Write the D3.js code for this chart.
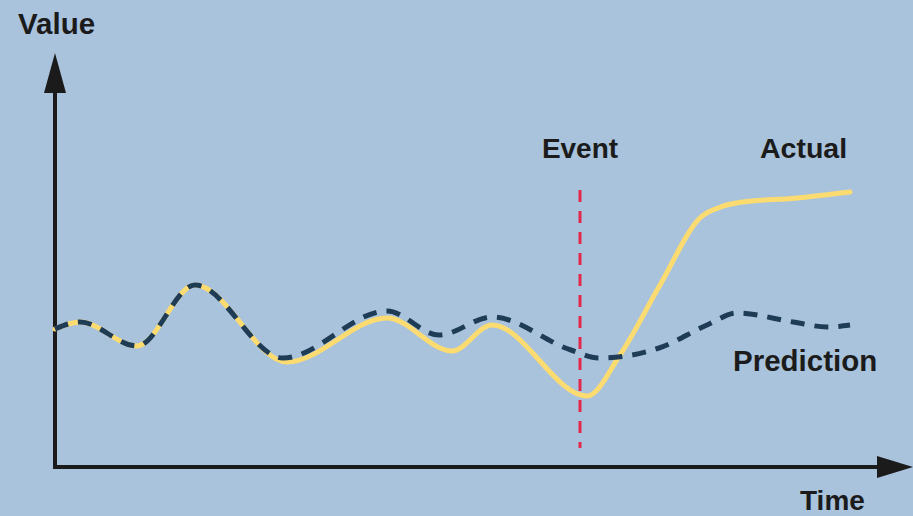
<!DOCTYPE html>
<html>
<head>
<meta charset="utf-8">
<script src="https://cdn.jsdelivr.net/npm/d3@7"></script>
<style>
  html, body { margin: 0; padding: 0; background: #a9c3dc; }
  svg { display: block; }
  text { font-family: "Liberation Sans", Arial, sans-serif; font-weight: bold; fill: #1b1b1b; }
</style>
</head>
<body>
<svg id="chart" width="913" height="516"></svg>
<script>
// Time (0-200) and value (0-100) units
const actualTime  = [0, 6.25, 20.5, 35, 58, 83, 99.25, 109.25, 133, 141.25, 151.25, 161.5, 167, 172, 185, 198.75];
const actualValue = [34.5, 36.25, 30.25, 45.5, 26.25, 37.25, 29, 35.5, 17.75, 28, 45.5, 62.5, 65.2, 66.25, 67.2, 68.75];

const predTime  = [0, 6.25, 20.5, 35, 57, 83, 96, 109.25, 129, 136, 151, 163, 170.5, 184.5, 193, 198.75];
const predValue = [34.5, 36.25, 30.25, 45.5, 27.25, 39, 33, 37.5, 29.25, 27.25, 29.75, 35.5, 38.5, 36.25, 35, 35.5];

const eventTime = 131.25;
const labels = { y: "Value", x: "Time", event: "Event", actual: "Actual", prediction: "Prediction" };

const svg = d3.select("#chart");
const x = d3.scaleLinear().domain([0, 200]).range([55, 855]);
const y = d3.scaleLinear().domain([0, 100]).range([467, 67]);

const axisColor = "#1b1b1b";
// Y axis
svg.append("line").attr("x1", x(0)).attr("x2", x(0)).attr("y1", y(0) + 2).attr("y2", 90)
  .attr("stroke", axisColor).attr("stroke-width", 4);
svg.append("path").attr("d", `M${x(0)},53 L${x(0) - 11},93 L${x(0) + 11},93 Z`).attr("fill", axisColor);
// X axis
svg.append("line").attr("x1", x(0) - 2).attr("x2", 880).attr("y1", y(0)).attr("y2", y(0))
  .attr("stroke", axisColor).attr("stroke-width", 4);
svg.append("path").attr("d", `M913,${y(0)} L877,${y(0) - 11} L877,${y(0) + 11} Z`).attr("fill", axisColor);

// Event line
svg.append("line").attr("x1", x(eventTime)).attr("x2", x(eventTime)).attr("y1", 190).attr("y2", 448)
  .attr("stroke", "#e3294a").attr("stroke-width", 3).attr("stroke-dasharray", "12,9");

const line = d3.line().curve(d3.curveMonotoneX).x(d => x(d[0])).y(d => y(d[1]));

svg.append("path").datum(d3.zip(actualTime, actualValue)).attr("d", line)
  .attr("fill", "none").attr("stroke", "#fcdb70").attr("stroke-width", 5).attr("stroke-linecap", "round");

svg.append("path").datum(d3.zip(predTime, predValue)).attr("d", line)
  .attr("fill", "none").attr("stroke", "#1f3c57").attr("stroke-width", 5).attr("stroke-dasharray", "14,10");

// Labels
svg.append("text").attr("x", 18).attr("y", 34).attr("font-size", 29.5).text(labels.y);
svg.append("text").attr("x", 800).attr("y", 510).attr("font-size", 28).text(labels.x);
svg.append("text").attr("x", x(eventTime)).attr("y", 158).attr("font-size", 28).attr("text-anchor", "middle").text(labels.event);
svg.append("text").attr("x", 760).attr("y", 158).attr("font-size", 28.5).text(labels.actual);
svg.append("text").attr("x", 733).attr("y", 371).attr("font-size", 29.5).text(labels.prediction);
</script>
</body>
</html>
